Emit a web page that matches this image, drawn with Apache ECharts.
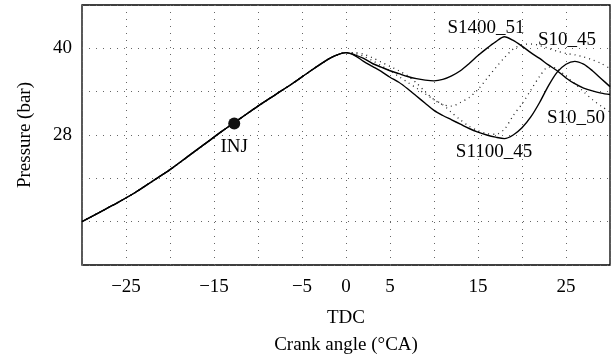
<!DOCTYPE html>
<html>
<head>
<meta charset="utf-8">
<script src="https://cdn.jsdelivr.net/npm/echarts@6/dist/echarts.min.js"></script>
<style>
html,body{margin:0;padding:0;background:#fff;}
#c{width:613px;height:364px;}
</style>
</head>
<body>
<div id="c"></div>
<script>
// Crank angle (deg CA) for shared compression part and after TDC
const xCommon = [-30,-28,-26,-24,-22,-20,-18,-16,-14,-12,-10,-8,-6,-4,-2,-1,0];
const pCommon = [16.0,17.3,18.6,20.0,21.6,23.2,25.0,26.8,28.6,30.3,32.0,33.6,35.2,36.9,38.5,39.1,39.4];
const xAfter = [1,2,3,4,5,6,7,8,9,10,11,12,13,14,15,16,17,18,19,20,21,22,23,24,25,26,27,28,29,30];
const pS1400_51 = [39.1,38.6,37.9,37.4,36.9,36.5,36.1,35.8,35.6,35.5,35.7,36.2,36.9,37.9,39.0,40.0,40.9,41.6,41.1,40.3,39.4,38.6,37.7,36.9,35.9,35.1,34.5,34.1,33.8,33.6];
const pS1100_45 = [39.0,38.2,37.5,36.8,36.0,35.3,34.4,33.4,32.4,31.4,30.7,30.1,29.5,28.9,28.4,28.0,27.7,27.5,28.0,29.0,30.5,32.5,34.8,36.7,37.8,38.2,37.8,36.9,35.8,34.7];
const pS10_45 = [39.4,39.2,38.7,38.1,37.5,36.9,36.2,35.2,34.0,32.9,32.2,32.0,32.5,33.2,34.3,35.8,37.3,38.7,39.9,40.5,40.6,40.4,40.0,39.6,39.3,39.1,38.8,38.4,37.9,37.2];
const pS10_50 = [39.3,38.9,38.3,37.6,36.9,36.1,35.3,34.5,33.7,32.9,32.2,31.1,30.1,29.2,28.6,28.2,28.1,28.8,30.7,32.3,34.2,36.1,37.4,37.2,36.1,35.1,34.0,32.9,32.0,31.2];
const injPoint = [-12.7, 29.6];
const xLabels = [-25,-15,-5,0,5,15,25];
const yLabels = [28,40];

function build(after){
  const d = xCommon.map((x,i)=>[x,pCommon[i]]);
  xAfter.forEach((x,i)=>d.push([x,after[i]]));
  return d;
}
const FONT = 'Liberation Serif';
const solid = {color:'#000',width:1.4,type:'solid'};
const dotted = {color:'#222',width:1.3,type:[1,4]};

const chart = echarts.init(document.getElementById('c'));
chart.setOption({
  animation:false,
  backgroundColor:'#fff',
  grid:{left:82,right:3,top:5,bottom:95,show:true,borderColor:'#000',borderWidth:1.3,backgroundColor:'#fff'},
  xAxis:{
    type:'value',min:-30,max:30,interval:5,
    axisLine:{show:false},axisTick:{show:false},
    splitLine:{show:true,lineStyle:{color:'#666',width:1,type:[1,6]}},
    axisLabel:{margin:13,color:'#000',fontFamily:FONT,fontSize:19,
      formatter:v=>xLabels.indexOf(v)>=0?(v<0?'\u2212'+Math.abs(v):String(v)):''},
    name:'TDC\nCrank angle (\u00B0CA)',nameLocation:'middle',nameGap:40,
    nameTextStyle:{color:'#000',fontFamily:FONT,fontSize:19,lineHeight:27}
  },
  yAxis:{
    type:'value',min:10,max:46,interval:6,
    axisLine:{show:false},axisTick:{show:false},
    splitLine:{show:true,lineStyle:{color:'#666',width:1,type:[1,6]}},
    axisLabel:{margin:10,color:'#000',fontFamily:FONT,fontSize:19,
      formatter:v=>yLabels.indexOf(v)>=0?String(v):''},
    name:'Pressure (bar)',nameLocation:'middle',nameGap:47,
    nameTextStyle:{color:'#000',fontFamily:FONT,fontSize:19}
  },
  series:[
    {name:'S10_45',type:'line',data:build(pS10_45),smooth:0.3,showSymbol:false,lineStyle:dotted,z:2},
    {name:'S10_50',type:'line',data:build(pS10_50),smooth:0.3,showSymbol:false,lineStyle:dotted,z:2},
    {name:'S1400_51',type:'line',data:build(pS1400_51),smooth:0.3,showSymbol:false,lineStyle:solid,z:3},
    {name:'S1100_45',type:'line',data:build(pS1100_45),smooth:0.3,showSymbol:false,lineStyle:solid,z:3},
    {name:'INJ',type:'scatter',data:[injPoint],symbolSize:12,itemStyle:{color:'#111',opacity:1},z:4,
      label:{show:true,formatter:'INJ',position:'bottom',distance:8,color:'#000',fontFamily:FONT,fontSize:19}}
  ],
  graphic:[
    {type:'text',x:486,y:28,style:{text:'S1400_51',font:'19px "Liberation Serif"',fill:'#000',align:'center',verticalAlign:'middle'}},
    {type:'text',x:567,y:40,style:{text:'S10_45',font:'19px "Liberation Serif"',fill:'#000',align:'center',verticalAlign:'middle'}},
    {type:'text',x:576,y:118,style:{text:'S10_50',font:'19px "Liberation Serif"',fill:'#000',align:'center',verticalAlign:'middle'}},
    {type:'text',x:494,y:152,style:{text:'S1100_45',font:'19px "Liberation Serif"',fill:'#000',align:'center',verticalAlign:'middle'}}
  ]
});
</script>
</body>
</html>
